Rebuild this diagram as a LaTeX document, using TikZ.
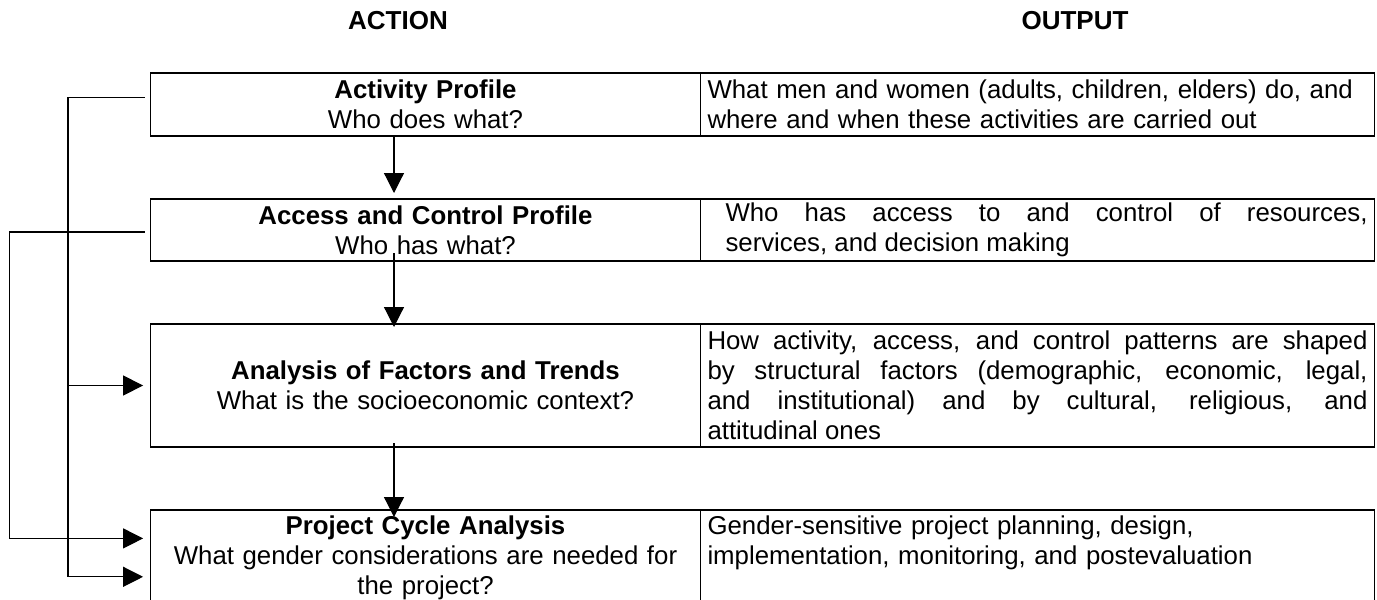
\documentclass[tikz,border=0pt]{standalone}
\usepackage{fontspec}
\setmainfont{Liberation Sans}
\usetikzlibrary{arrows.meta, positioning}

\begin{document}
\begin{tikzpicture}[
    x=0.5pt, y=-0.5pt,
    node distance=31.5pt and 0pt,
    txt/.style={font=\fontsize{12.9}{15}\selectfont},
    head/.style={font=\fontsize{13}{15}\selectfont\bfseries},
    actbox/.style={rectangle, draw, line width=0.85pt, outer sep=0pt, inner xsep=5pt, inner ysep=1pt, minimum width=275pt, text width=265pt, align=center, txt},
    outbox/.style={rectangle, draw, line width=0.85pt, outer sep=0pt, inner xsep=3.5pt, inner ysep=1pt, minimum width=337pt, text width=330pt, align=justify, txt},
    arrow/.style={-{Triangle[length=10pt, width=10pt]}, line width=0.6pt},
    fback/.style={arrow, shorten >=3.7pt}
]
\useasboundingbox (0,0) rectangle (1377,600);
\node[head] (acthead) at (398,21) {ACTION};
\node[head] (outhead) at (1075,21) {OUTPUT};

\node[actbox, minimum height=31.5pt, anchor=north west] (a1) at (150.5,73) {\textbf{Activity Profile}\\Who does what?};
\node[outbox, minimum height=31.5pt, align=left, right=of a1] (o1) {What men and women (adults, children, elders) do, and\\where and when these activities are carried out};
\node[actbox, minimum height=31pt, below=of a1] (a2) {\textbf{Access and Control Profile}\\Who has what?};
\node[outbox, minimum height=31pt, right=of a2] (o2) {\hspace*{9pt}Who has access to and control of resources,\linebreak\hspace*{9pt}services, and decision making};
\node[actbox, minimum height=61.5pt, below=of a2] (a3) {\textbf{Analysis of Factors and Trends}\\What is the socioeconomic context?};
\node[outbox, minimum height=61.5pt, right=of a3] (o3) {How activity, access, and control patterns are shaped\linebreak by structural factors (demographic, economic, legal,\linebreak and institutional) and by cultural, religious, and\linebreak attitudinal ones};
\node[actbox, inner ysep=3pt, text depth=40pt, below=of a3] (a4) {\textbf{Project Cycle Analysis}\\What gender considerations are needed for\\the project?};
\node[outbox, inner ysep=3pt, text depth=40pt, align=left, anchor=north west] (o4) at (a4.north east) {Gender-sensitive project planning, design,\\implementation, monitoring, and postevaluation};

\coordinate (ax) at (394,0);
\coordinate (lrail) at (68,0);
\coordinate (orail) at (9.5,0);
\coordinate[below=14.2pt of a4.north west] (in4a);
\coordinate[below=33.4pt of a4.north west] (in4b);

\draw[arrow, shorten >=3pt] (a1.south -| ax) -- (a2.north -| ax);
\draw[arrow, shorten <=-4pt, shorten >=-1.5pt] (a2.south -| ax) -- (a3.north -| ax);
\draw[arrow, shorten <=-2pt, shorten >=-3.5pt] (a3.south -| ax) -- (a4.north -| ax);

\draw[fback] ([xshift=-3pt, yshift=3.6pt]a1.west) -| (lrail |- a3.west) |- (in4b);
\draw[fback] (lrail |- a3.west) -- (a3.west);
\draw[fback] ([xshift=-3pt, yshift=-1pt]a2.west) -| (orail |- in4a) -- (in4a);
\end{tikzpicture}
\end{document}
